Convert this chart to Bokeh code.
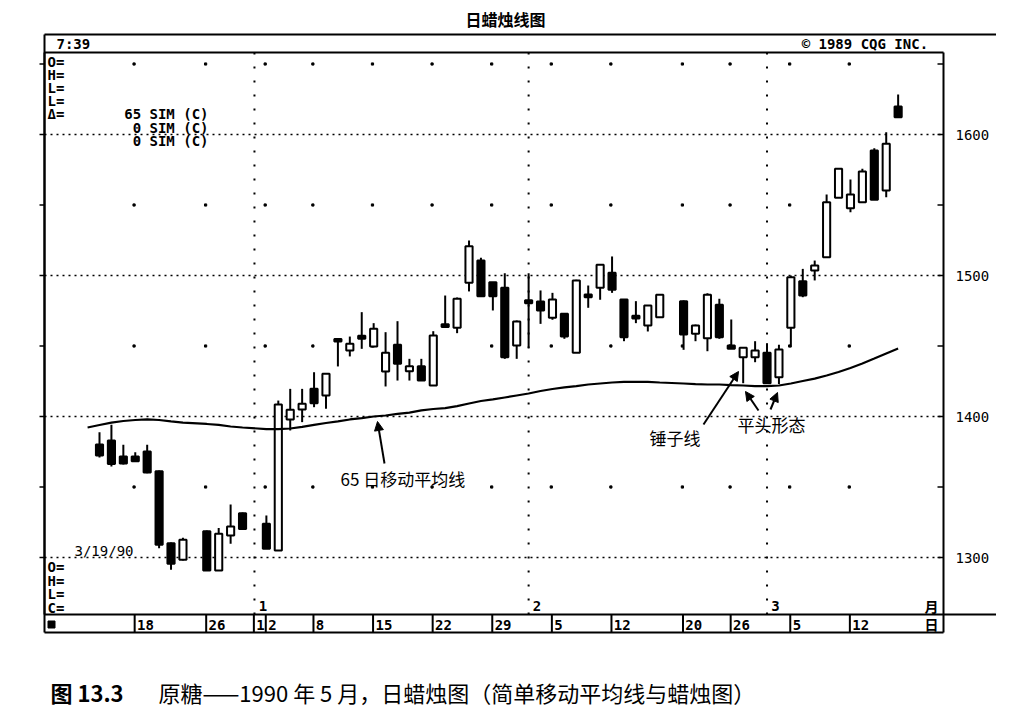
import numpy as np
from bokeh.plotting import figure
from bokeh.models import Range1d, Arrow, NormalHead, ColumnDataSource
from bokeh.core.properties import value
from bokeh.embed import file_html
from bokeh.resources import INLINE

# ---------------- data ----------------
dates = ["1989-12-13", "1989-12-14", "1989-12-15", "1989-12-18", "1989-12-19", "1989-12-20",
         "1989-12-21", "1989-12-22", "1989-12-26", "1989-12-27", "1989-12-28", "1989-12-29",
         "1990-01-02", "1990-01-03", "1990-01-04", "1990-01-05", "1990-01-08", "1990-01-09",
         "1990-01-10", "1990-01-11", "1990-01-12", "1990-01-15", "1990-01-16", "1990-01-17",
         "1990-01-18", "1990-01-19", "1990-01-22", "1990-01-23", "1990-01-24", "1990-01-25",
         "1990-01-26", "1990-01-29", "1990-01-30", "1990-01-31", "1990-02-01", "1990-02-02",
         "1990-02-05", "1990-02-06", "1990-02-07", "1990-02-08", "1990-02-09", "1990-02-12",
         "1990-02-13", "1990-02-14", "1990-02-15", "1990-02-16", "1990-02-20", "1990-02-21",
         "1990-02-22", "1990-02-23", "1990-02-26", "1990-02-27", "1990-02-28", "1990-03-01",
         "1990-03-02", "1990-03-05", "1990-03-06", "1990-03-07", "1990-03-08", "1990-03-09",
         "1990-03-12", "1990-03-13", "1990-03-14", "1990-03-15", "1990-03-16"]
opens = [1380.1, 1383.0, 1371.6, 1371.6, 1375.2, 1361.2, 1310.1, 1298.4, 1318.7, 1290.8, 1315.6, 1331.4,
         1323.9, 1305.0, 1397.9, 1405.0, 1419.6, 1414.9, 1455.0, 1446.8, 1457.2, 1449.6, 1431.9, 1450.9,
         1432.1, 1435.7, 1422.0, 1465.4, 1462.9, 1494.8, 1510.6, 1495.2, 1491.3, 1450.4, 1482.4, 1481.6,
         1470.0, 1472.8, 1445.2, 1486.5, 1491.3, 1501.9, 1483.0, 1471.5, 1464.5, 1470.4, 1481.8, 1458.7,
         1455.5, 1479.2, 1450.4, 1442.1, 1442.1, 1445.2, 1427.9, 1462.9, 1496.0, 1503.5, 1513.0, 1555.1,
         1547.7, 1552.0, 1588.7, 1560.3, 1619.9]
highs = [1388.9, 1394.1, 1379.9, 1374.7, 1379.9, 1361.7, 1310.6, 1314.0, 1319.1, 1321.0, 1337.6, 1331.9,
         1329.8, 1411.3, 1419.6, 1419.6, 1431.4, 1430.5, 1455.1, 1456.7, 1474.0, 1466.2, 1459.8, 1467.6,
         1440.9, 1440.9, 1460.5, 1485.8, 1484.4, 1524.8, 1512.6, 1495.2, 1501.6, 1468.1, 1501.6, 1489.4,
         1487.7, 1473.0, 1497.0, 1492.9, 1507.8, 1513.5, 1483.0, 1481.8, 1478.7, 1486.5, 1482.3, 1465.2,
         1487.4, 1483.5, 1468.8, 1448.9, 1453.4, 1452.0, 1450.9, 1500.0, 1504.7, 1510.6, 1557.4, 1575.9,
         1568.1, 1575.7, 1590.3, 1601.6, 1628.4]
lows = [1370.9, 1364.5, 1366.0, 1368.1, 1359.8, 1306.6, 1291.3, 1297.9, 1290.8, 1290.8, 1309.7, 1320.1,
        1306.2, 1305.0, 1390.1, 1396.0, 1406.6, 1405.5, 1435.5, 1442.6, 1448.0, 1449.1, 1421.3, 1425.5,
        1425.5, 1425.5, 1422.0, 1463.8, 1459.1, 1488.7, 1485.3, 1475.2, 1440.9, 1440.9, 1448.7, 1465.7,
        1468.6, 1455.1, 1445.2, 1477.1, 1482.8, 1487.7, 1453.4, 1466.2, 1460.3, 1470.4, 1447.3, 1453.4,
        1446.3, 1455.1, 1448.0, 1423.6, 1438.5, 1423.4, 1423.0, 1449.1, 1484.6, 1496.5, 1513.0, 1555.1,
        1544.9, 1552.0, 1553.7, 1555.5, 1612.3]
closes = [1372.3, 1366.4, 1366.7, 1368.3, 1360.3, 1309.0, 1295.5, 1312.6, 1290.8, 1316.8, 1322.0, 1320.3,
          1306.2, 1408.5, 1404.8, 1409.0, 1409.4, 1430.3, 1453.2, 1451.6, 1455.2, 1462.2, 1445.2, 1437.4,
          1435.7, 1425.5, 1457.4, 1463.4, 1483.5, 1520.8, 1485.3, 1485.3, 1442.1, 1467.4, 1480.4, 1475.2,
          1483.0, 1456.7, 1496.5, 1484.5, 1507.6, 1489.9, 1456.2, 1469.5, 1478.7, 1486.3, 1458.2, 1464.5,
          1486.3, 1456.2, 1448.0, 1448.7, 1446.8, 1423.6, 1447.5, 1498.8, 1485.8, 1507.1, 1552.0, 1575.7,
          1557.4, 1573.8, 1553.7, 1593.4, 1612.3]

ma_dates = ["1989-12-12"] + dates
ma_values = [1392.2, 1394.0, 1395.7, 1396.8, 1397.5, 1397.9, 1397.5, 1396.5, 1395.7, 1394.7, 1394.0, 1392.9,
             1392.2, 1391.1, 1391.1, 1391.5, 1392.6, 1394.0, 1395.4, 1396.5, 1397.9, 1398.9, 1400.0, 1400.7,
             1401.8, 1402.8, 1404.3, 1405.3, 1406.0, 1407.4, 1409.2, 1411.0, 1412.1, 1413.5, 1414.9, 1416.3,
             1418.1, 1419.5, 1420.6, 1421.6, 1422.7, 1423.4, 1424.1, 1424.5, 1424.5, 1424.5, 1424.1, 1423.4,
             1423.0, 1422.7, 1422.7, 1422.3, 1422.0, 1421.6, 1421.6, 1422.0, 1423.4, 1425.2, 1426.9, 1429.1,
             1431.6, 1434.4, 1437.6, 1441.1, 1444.7, 1448.2]

price_ticks = [1300, 1400, 1500, 1600]
price_labels = ["1300", "1400", "1500", "1600"]
minor_ticks = [1300, 1350, 1400, 1450, 1500, 1550, 1600, 1650]
half_levels = [1350, 1450, 1550, 1650]
week_dates = ["1989-12-18", "1989-12-26", "1990-01-01", "1990-01-02", "1990-01-08", "1990-01-15",
              "1990-01-22", "1990-01-29", "1990-02-05", "1990-02-12", "1990-02-20", "1990-02-26",
              "1990-03-05", "1990-03-12"]
week_labels = ["18", "26", "1", "2", "8", "15", "22", "29", "5", "12", "20", "26", "5", "12"]
month_dates = ["1990-01-01", "1990-02-01", "1990-03-01"]
month_labels = ["1", "2", "3"]

# ---------------- scales ----------------
START = "1989-12-13"
def pos(d):
    return float(np.busday_count(START, d))

W, H = 996, 708
DX = 11.92      # px per trading day
X0P = 99        # page x of first candle
PY = 1.41       # px per price unit
Y0P = 416       # page y of 1400

def X(px):  # page pixel -> data x (layout helper)
    return (px - X0P) / DX

def Y(py):  # page pixel -> data y (layout helper)
    return 1400 + (Y0P - py) / PY

p = figure(width=W, height=H, output_backend="svg", toolbar_location=None,
           x_axis_location=None, y_axis_location=None, title=None,
           x_range=Range1d(X(0), X(W)), y_range=Range1d(Y(H), Y(0)),
           min_border=0, outline_line_color=None)
p.min_border_left = p.min_border_right = p.min_border_top = p.min_border_bottom = 0
p.xgrid.visible = False
p.ygrid.visible = False
p.background_fill_color = "white"
p.border_fill_color = "white"

K = "black"
MONO = value("DejaVu Sans Mono")
CJK = value("Noto Sans CJK SC")

# ---------------- frame / borders ----------------
bx0 = [X(44), X(44), X(44), X(997), X(44), X(943), X(44), X(44), X(943)]
by0 = [Y(34), Y(34), Y(52), Y(34), Y(614), Y(52), Y(632), Y(52), Y(614)]
bx1 = [X(997), X(44), X(943), X(997), X(943), X(943), X(943), X(44), X(997)]
by1 = [Y(34), Y(632), Y(52), Y(614), Y(614), Y(632), Y(632), Y(614), Y(614)]
p.segment(bx0, by0, bx1, by1, line_color=K, line_width=2)

# horizontal dotted grid
p.segment([X(44)] * len(price_ticks), price_ticks, [X(943)] * len(price_ticks), price_ticks,
          line_color=K, line_width=1.6, line_dash="2 4")
# vertical month dotted lines
mx = [pos(d) for d in month_dates]
p.segment(mx, [Y(614)] * 3, mx, [Y(52)] * 3, line_color=K, line_width=2, line_dash="2 12")
# sparse dots at half levels on week dividers
dx, dy = [], []
for d in week_dates:
    if d in month_dates:
        continue
    for lv in half_levels:
        dx.append(pos(d) - 0.1)
        dy.append(lv)
p.scatter(dx, dy, marker="square", size=2.2, color=K)

# edge ticks
p.segment([X(937)] * len(minor_ticks), minor_ticks, [X(943)] * len(minor_ticks), minor_ticks,
          line_color=K, line_width=1.5)
p.segment([X(39)] * len(minor_ticks), minor_ticks, [X(44)] * len(minor_ticks), minor_ticks,
          line_color=K, line_width=1.5)

# ---------------- candles ----------------
xs = [pos(d) for d in dates]
src = ColumnDataSource(dict(
    x=xs, high=highs, low=lows,
    top=[max(o, c) for o, c in zip(opens, closes)],
    bottom=[min(o, c) for o, c in zip(opens, closes)],
    fill=["white" if c >= o else K for o, c in zip(opens, closes)],
))
p.segment(x0="x", y0="high", x1="x", y1="low", source=src, line_color=K, line_width=2)
p.vbar(x="x", width=0.6, top="top", bottom="bottom", source=src,
       fill_color="fill", line_color=K, line_width=2)

# moving average
p.line([pos(d) for d in ma_dates], ma_values, line_color=K, line_width=2.2)

# ---------------- texts ----------------
# right price labels
p.text([X(955)] * 4, price_ticks, text=price_labels, text_font=MONO, text_font_size="14px",
       text_align="left", text_baseline="middle", text_color=K)

# header strip
p.text([X(56), X(936)], [Y(43), Y(43)], text=["7:39", "©  1989 CQG INC."], text_font=MONO,
       text_font_size="14px", text_font_style="bold", text_align=["left", "right"],
       text_baseline="middle", text_color=K)

# upper left read-out
p.text([X(47)] * 5, [Y(61), Y(74), Y(87), Y(100), Y(113)], text=["O=", "H=", "L=", "L=", "Δ="],
       text_font=MONO, text_font_size="14px", text_font_style="bold",
       text_align="left", text_baseline="middle", text_color=K)
p.text([X(208)] * 3, [Y(113), Y(127), Y(140)], text=["65 SIM (C)", "0 SIM (C)", "0 SIM (C)"],
       text_font=MONO, text_font_size="14px", text_font_style="bold",
       text_align="right", text_baseline="middle", text_color=K)

# lower left read-out
p.text([X(74)], [Y(550)], text=["3/19/90"], text_font=MONO, text_font_size="14px",
       text_align="left", text_baseline="middle", text_color=K)
p.text([X(47)] * 4, [Y(566), Y(580), Y(593), Y(607)], text=["O=", "H=", "L=", "C="],
       text_font=MONO, text_font_size="14px", text_font_style="bold",
       text_align="left", text_baseline="middle", text_color=K)

# bottom date strip
wx = [pos(d) for d in week_dates]
p.segment([x - 0.05 for x in wx], [Y(614)] * len(wx), [x - 0.05 for x in wx], [Y(632)] * len(wx),
          line_color=K, line_width=2)
p.text([x + 0.15 for x in wx], [Y(624)] * len(wx), text=week_labels, text_font=MONO,
       text_font_size="14px", text_font_style="bold", text_align="left",
       text_baseline="middle", text_color=K)
p.scatter([X(51)], [Y(624)], marker="square", size=7, color=K)
p.text([m + 0.35 for m in mx], [Y(605)] * 3, text=month_labels, text_font=MONO,
       text_font_size="14px", text_font_style="bold", text_align="left",
       text_baseline="middle", text_color=K)
p.text([X(931), X(931)], [Y(605), Y(623)], text=["月", "日"], text_font=CJK,
       text_font_size="14px", text_font_style="bold", text_align="center",
       text_baseline="middle", text_color=K)

# annotations
p.text([X(340), X(649), X(737)], [Y(478), Y(437), Y(424)],
       text=["65 日移动平均线", "锤子线", "平头形态"], text_font=CJK, text_font_size="17px",
       text_align="left", text_baseline="middle", text_color=K)
arrows = [((384, 463), (377, 421)), ((703, 424), (738, 371)),
          ((758, 410), (745, 391)), ((770, 409), (777, 392))]
for (sx, sy), (ex, ey) in arrows:
    p.add_layout(Arrow(end=NormalHead(size=9, fill_color=K, line_color=K, line_width=1),
                       x_start=X(sx), y_start=Y(sy), x_end=X(ex), y_end=Y(ey),
                       line_color=K, line_width=2))

# title and caption
p.text([X(505)], [Y(18)], text=["日蜡烛线图"], text_font=CJK, text_font_size="16px",
       text_font_style="bold", text_align="center", text_baseline="middle", text_color=K)
p.text([X(50)], [Y(691)], text=["图 13.3"], text_font=CJK, text_font_size="22px",
       text_font_style="bold", text_align="left", text_baseline="middle", text_color=K)
p.text([X(158)], [Y(691)], text=["原糖——1990 年 5 月，日蜡烛图（简单移动平均线与蜡烛图）"],
       text_font=CJK, text_font_size="22px", text_align="left", text_baseline="middle",
       text_color=K)

open("out.html", "w").write(file_html(p, INLINE))
